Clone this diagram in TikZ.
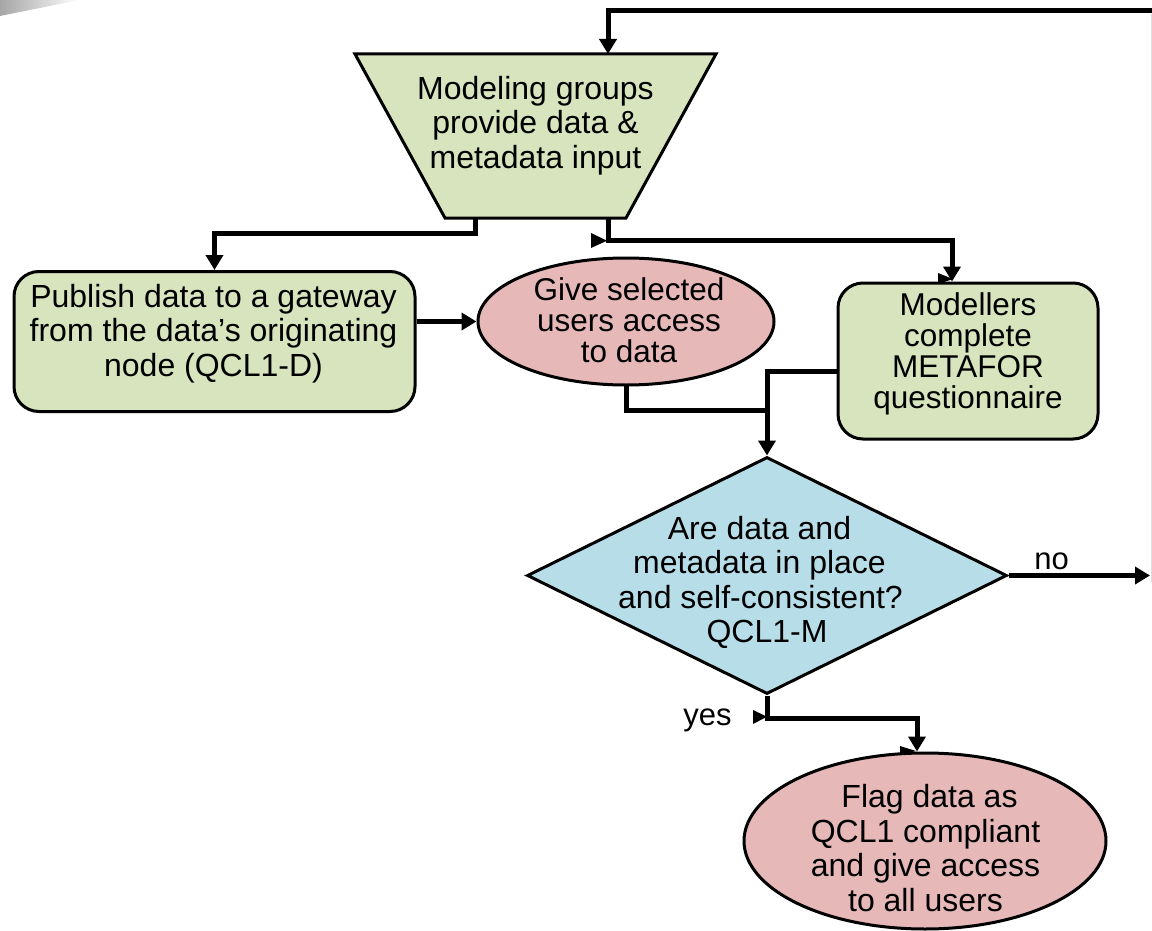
\documentclass[tikz,border=0pt]{standalone}
\usepackage{fontspec}
\setmainfont{Liberation Sans}
\usetikzlibrary{shapes.geometric,arrows.meta}
\definecolor{procgreen}{HTML}{D7E4BD}
\definecolor{termpink}{HTML}{E6B9B8}
\definecolor{decblue}{HTML}{B7DEE8}
% fixed blank padding that a line end cannot swallow
\newcommand{\padsp}[1]{\hbox to #1{}}

\begin{document}
\begin{tikzpicture}[x=1pt,y=-1pt,
  shapeline/.style={draw=black,line width=3pt},
  procbox/.style={shapeline,fill=procgreen,rectangle,rounded corners=25pt,inner sep=0pt},
  termoval/.style={shapeline,fill=termpink,ellipse,inner sep=0pt},
  decision/.style={shapeline,fill=decblue,diamond,inner sep=0pt},
  bigtext/.style={inner sep=0pt,align=center,font=\fontsize{32}{34.5}\selectfont},
  tighttext/.style={inner sep=0pt,align=center,font=\fontsize{31.5}{31}\selectfont},
  edgetext/.style={inner sep=0pt,anchor=base,font=\fontsize{31}{31}\selectfont},
  conn/.style={line width=5pt,-{Triangle[length=15pt,width=17pt]}},
  plainconn/.style={line width=5pt,line cap=rect},
  strayhead/.style={fill=black}
]
\useasboundingbox (0,0) rectangle (1152,931);

% faint smudge in the top-left corner and page edge on the right
\shade[left color=gray!70,right color=white] (0,0) -- (80,0) -- (0,16) -- cycle;
\draw[gray!25,line width=1pt] (1151,14) -- (1151,582);

% input trapezoid
\draw[shapeline,fill=procgreen,line join=miter] (355,54) -- (716,54) -- (626,218) -- (445,218) -- cycle;
\coordinate (mgtop) at (608,54);
\coordinate (mgleft) at (475,218);
\coordinate (mgright) at (608,218);
\coordinate (loopstart) at (1152,11);

% process boxes, terminals and decision
\node[procbox,minimum width=401pt,minimum height=140pt] (pub) at (214.5,341.5) {};
\node[termoval,minimum width=296pt,minimum height=127pt] (give) at (626,321.5) {};
\node[procbox,minimum width=260pt,minimum height=156pt] (mod) at (968,361) {};
\node[decision,minimum width=480pt,minimum height=237pt] (dia) at (767,575.5) {};
\node[termoval,minimum width=362pt,minimum height=176pt] (flag) at (925,841) {};

\coordinate (junc) at (767,410);
\coordinate (noend) at (1150,575.5);

% texts
\node[bigtext] (mgtext) at (535.5,125.5) {Modeling groups\\provide data \&\\metadata input};
\node[bigtext] (pubtext) at (213.5,333.5) {Publish data to a gateway\\from the data’s originating\\node (QCL1-D)};
\node[tighttext] (givetext) at (629,320.2) {Give selected\\users access\\to data};
\node[tighttext] (modtext) at (968,353.7) {Modellers\\complete\\METAFOR\\questionnaire};
\node[bigtext] (diatext) at (767,582.5) {Are data and\padsp{15pt}\\metadata in place\padsp{15pt}\\and self-consistent?\padsp{13pt}\\QCL1-M};
\node[bigtext] (flagtext) at (925.5,848) {\padsp{8pt}Flag data as\\QCL1 compliant\\and give access\\to all users};

% connectors
\draw[conn] (loopstart) -| (mgtop);
\draw[conn] (mgleft) -- ++(0,15) -| (pub.north);
\draw[conn] (mgright) -- ++(0,22.7) -| ([xshift=-16pt]mod.north);
\draw[conn] (pub.east |- give.west) -- (give.west);
\draw[plainconn] (give.south) |- (junc);
\draw[conn] ([yshift=-10pt]mod.west) -| (dia.north);
\draw[conn] (dia.east) -- (noend);
\draw[conn] (dia.south) -- ++(0,22.7) -| ([xshift=-8pt]flag.north);

\node[edgetext] (nolabel) at (1051.5,569) {no};
\node[edgetext] (yeslabel) at (707.5,725) {yes};

% small extra arrowheads at the connector bends
\fill[strayhead] (591,233) -- (607,240.7) -- (591,248) -- cycle;
\fill[strayhead] (753,710) -- (767,716.7) -- (753,724) -- cycle;
\fill[strayhead] (938,273) -- (953,279) -- (938,284) -- cycle;
\fill[strayhead] (900,746) -- (916,751) -- (900,755) -- cycle;
\end{tikzpicture}
\end{document}
